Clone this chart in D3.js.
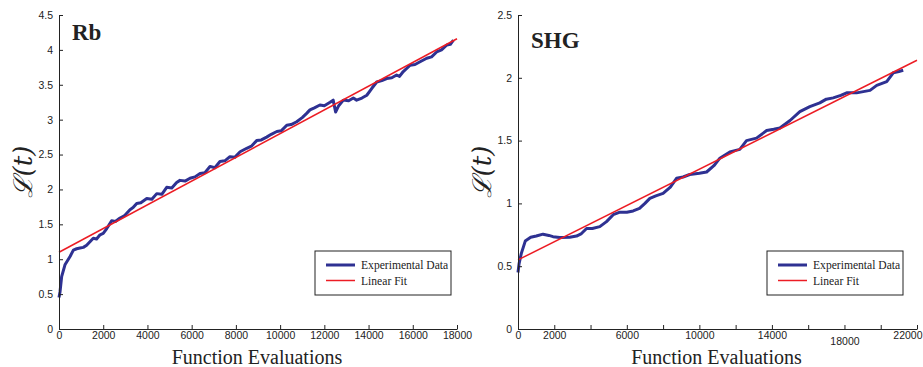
<!DOCTYPE html>
<html>
<head>
<script src="https://d3js.org/d3.v7.min.js"></script>
<style>
  body { margin: 0; background: #fff; }
  .tick text { font-family: "Liberation Sans", Arial, sans-serif; font-size: 10.5px; fill: #222; }
</style>
</head>
<body>
<div id="chart"></div>
<script>
// Rb panel data
var rbX = [0, 45, 120, 270, 500, 650, 800, 950, 1100, 1250, 1400, 1550, 1700, 1855, 2000, 2160, 2380, 2550, 2760, 2950, 3210, 3350, 3515, 3700, 3970, 4200, 4420, 4650, 4870, 5100, 5320, 5470, 5700, 5925, 6150, 6380, 6600, 6830, 7050, 7280, 7500, 7730, 7950, 8190, 8490, 8700, 8940, 9150, 9390, 9600, 9850, 10050, 10300, 10500, 10750, 11000, 11200, 11350, 11550, 11800, 12000, 12260, 12400, 12510, 12650, 12860, 13100, 13310, 13460, 13700, 13920, 14150, 14370, 14600, 14820, 15050, 15270, 15400, 15570, 15880, 16100, 16330, 16630, 16850, 17080, 17300, 17540, 17700, 17840];
var rbY = [0.45, 0.53, 0.75, 0.92, 1.04, 1.13, 1.15, 1.16, 1.17, 1.2, 1.25, 1.3, 1.29, 1.35, 1.37, 1.44, 1.55, 1.54, 1.59, 1.62, 1.71, 1.74, 1.8, 1.81, 1.87, 1.86, 1.94, 1.93, 2.03, 2.02, 2.1, 2.13, 2.12, 2.16, 2.18, 2.23, 2.24, 2.33, 2.31, 2.4, 2.41, 2.47, 2.46, 2.54, 2.59, 2.62, 2.7, 2.71, 2.75, 2.79, 2.83, 2.84, 2.92, 2.93, 2.97, 3.03, 3.09, 3.14, 3.17, 3.21, 3.2, 3.25, 3.28, 3.11, 3.2, 3.28, 3.27, 3.31, 3.28, 3.31, 3.35, 3.45, 3.54, 3.56, 3.59, 3.6, 3.64, 3.62, 3.69, 3.78, 3.79, 3.83, 3.88, 3.9, 3.97, 4.0, 4.07, 4.08, 4.14];
var rbFitX = [0, 18000];
var rbFitY = [1.1, 4.16];
var rbXTicks = [0, 2000, 4000, 6000, 8000, 10000, 12000, 14000, 16000, 18000];
var rbYTicks = [0, 0.5, 1, 1.5, 2, 2.5, 3, 3.5, 4, 4.5];

// SHG panel data
var shgX = [0, 60, 180, 400, 700, 1010, 1380, 1700, 1930, 2300, 2850, 3230, 3500, 3780, 4100, 4510, 4880, 5250, 5620, 6000, 6350, 6700, 7000, 7270, 7600, 8000, 8400, 8740, 9100, 9470, 10000, 10400, 10800, 11130, 11680, 12230, 12600, 13150, 13710, 14100, 14440, 15000, 15540, 16090, 16640, 17000, 17380, 17800, 18120, 18670, 19410, 19780, 20330, 20690, 21000, 21240];
var shgY = [0.45, 0.52, 0.6, 0.7, 0.73, 0.74, 0.755, 0.745, 0.735, 0.728, 0.73, 0.74, 0.76, 0.8, 0.8, 0.815, 0.855, 0.91, 0.93, 0.93, 0.94, 0.96, 1.0, 1.04, 1.06, 1.08, 1.13, 1.2, 1.21, 1.23, 1.24, 1.25, 1.3, 1.36, 1.41, 1.43, 1.5, 1.52, 1.58, 1.59, 1.6, 1.66, 1.73, 1.77, 1.8, 1.83, 1.84, 1.86, 1.88, 1.88, 1.9, 1.94, 1.97, 2.04, 2.05, 2.06];
var shgFitX = [0, 22000];
var shgFitY = [0.55, 2.14];
var shgXTicks = [0, 2000, 4000, 6000, 8000, 10000, 12000, 14000, 16000, 18000, 20000, 22000];
var shgXLabels = [0, 2000, 6000, 10000, 14000, 18000, 22000];
var shgYTicks = [0, 0.5, 1, 1.5, 2, 2.5];

var W = 923, H = 367;
var svg = d3.select("#chart").append("svg")
    .attr("width", W)
    .attr("height", H);

function drawPanel(opt) {
    var x = d3.scaleLinear().domain(opt.xDomain).range([opt.left, opt.right]);
    var y = d3.scaleLinear().domain(opt.yDomain).range([329, 15]);
    var g = svg.append("g");

    var line = d3.line().x(d => x(d[0])).y(d => y(d[1]));
    var fit = d3.zip(opt.fitX, opt.fitY);
    var data = d3.zip(opt.dataX, opt.dataY);

    // blue experimental curve
    g.append("path")
        .datum(data)
        .attr("d", line)
        .attr("fill", "none")
        .attr("stroke", "#2e3192")
        .attr("stroke-width", 3)
        .attr("stroke-linejoin", "round");

    // red fit line
    g.append("path")
        .datum(fit)
        .attr("d", line)
        .attr("fill", "none")
        .attr("stroke", "#ec1c24")
        .attr("stroke-width", 1.5);

    // axes, MATLAB style inward ticks
    var xAxis = d3.axisBottom(x).tickValues(opt.xTicks).tickSizeInner(-4).tickSizeOuter(0).tickPadding(3)
        .tickFormat(d => opt.xLabels.indexOf(d) >= 0 ? d : "");
    var gx = g.append("g").attr("transform", "translate(0,329)").call(xAxis);
    gx.selectAll("text").attr("dy", d => (opt.lowLabel === d ? "1.2em" : "0.71em"));
    // the last label is pushed left so it stays in the window
    if (opt.lastEnd) {
        gx.selectAll(".tick").filter(d => d === opt.xDomain[1]).select("text")
            .attr("text-anchor", "end")
            .attr("x", opt.lastEnd - opt.right);
    }

    var yAxis = d3.axisLeft(y).tickValues(opt.yTicks).tickSizeInner(-4).tickSizeOuter(0).tickPadding(6)
        .tickFormat(d3.format(""));
    g.append("g").attr("transform", "translate(" + opt.left + ",0)").call(yAxis);
    g.selectAll(".domain").attr("stroke", "#222");
    g.selectAll(".tick line").attr("stroke", "#222");

    // title
    g.append("text")
        .attr("x", opt.titleX)
        .attr("y", opt.titleY)
        .attr("font-family", "Liberation Serif, Times New Roman, serif")
        .attr("font-weight", "bold")
        .attr("font-size", 23)
        .attr("fill", "#222")
        .text(opt.title);

    // x label
    g.append("text")
        .attr("x", (opt.left + opt.right) / 2 - 1)
        .attr("y", 364)
        .attr("text-anchor", "middle")
        .attr("font-family", "Liberation Serif, Times New Roman, serif")
        .attr("font-size", 20)
        .attr("fill", "#222")
        .text("Function Evaluations");

    // y label
    g.append("text")
        .attr("transform", "translate(" + (opt.left - 27) + ",172) rotate(-90)")
        .attr("text-anchor", "middle")
        .attr("font-family", "DejaVu Serif, serif")
        .attr("font-style", "italic")
        .attr("font-size", 26)
        .attr("fill", "#222")
        .text("\u2112(t)");

    // legend
    var lg = g.append("g").attr("transform", "translate(" + opt.legX + ",251)");
    lg.append("rect").attr("width", 136).attr("height", 44)
        .attr("fill", "#fff").attr("stroke", "#222").attr("stroke-width", 1);
    var items = [["Experimental Data", "#2e3192", 3], ["Linear Fit", "#ec1c24", 1.5]];
    items.forEach(function (it, i) {
        var yy = 14 + i * 15.5;
        lg.append("line").attr("x1", 11).attr("x2", 40).attr("y1", yy).attr("y2", yy)
            .attr("stroke", it[1]).attr("stroke-width", it[2]);
        lg.append("text").attr("x", 46).attr("y", yy + 4)
            .attr("font-family", "Liberation Serif, Times New Roman, serif")
            .attr("font-size", 11.6)
            .attr("fill", "#222")
            .text(it[0]);
    });
}

drawPanel({
    left: 59, right: 457,
    xDomain: [0, 18000], yDomain: [0, 4.5],
    dataX: rbX, dataY: rbY, fitX: rbFitX, fitY: rbFitY,
    xTicks: rbXTicks, xLabels: rbXTicks, yTicks: rbYTicks,
    title: "Rb", titleX: 72, titleY: 40, legX: 315
});

drawPanel({
    left: 518, right: 917,
    xDomain: [0, 22000], yDomain: [0, 2.5],
    dataX: shgX, dataY: shgY, fitX: shgFitX, fitY: shgFitY,
    xTicks: shgXTicks, xLabels: shgXLabels, yTicks: shgYTicks, lowLabel: 18000,
    lastEnd: 922,
    title: "SHG", titleX: 531, titleY: 48, legX: 767
});
</script>
</body>
</html>
